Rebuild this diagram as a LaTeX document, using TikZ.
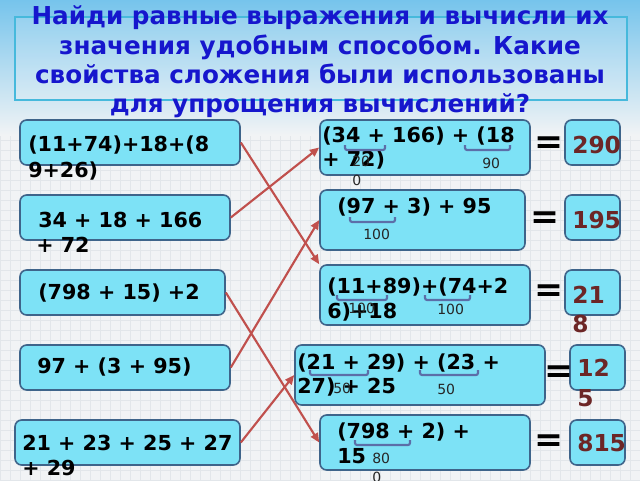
\documentclass[tikz,border=0pt]{standalone}
\usepackage{fontspec}
\setmainfont{DejaVu Sans}
\usetikzlibrary{fit,arrows.meta}
\definecolor{bgc}{RGB}{241,243,245}
\definecolor{gridc}{RGB}{226,230,234}
\definecolor{skytop}{RGB}{118,196,236}
\definecolor{titlec}{RGB}{22,22,205}
\definecolor{tboxc}{RGB}{70,185,220}
\definecolor{boxfill}{RGB}{125,226,246}
\definecolor{boxborder}{RGB}{62,100,138}
\definecolor{conncol}{RGB}{192,80,77}
\definecolor{anscol}{RGB}{108,38,38}
\definecolor{brkcol}{RGB}{92,110,168}
\begin{document}
\begin{tikzpicture}[x=0.75pt,y=-0.75pt,
  box/.style={draw=boxborder, fill=boxfill, line width=1.2pt, rounded corners=5pt, inner sep=0pt},
  eqt/.style={font=\fontsize{15.5}{18}\selectfont\bfseries, anchor=west, inner sep=0pt, text=black},
  lab/.style={font=\fontsize{10.5}{12}\selectfont, anchor=west, inner sep=0pt, text=black!85},
  anst/.style={font=\fontsize{17.5}{20}\selectfont\bfseries, text=anscol, anchor=west, inner sep=0pt},
  equ/.style={font=\fontsize{26}{28}\selectfont\bfseries, inner sep=0pt},
  brk/.style={draw=brkcol, line width=1.6pt, rounded corners=1.5pt},
  conn/.style={draw=conncol, line width=1.6pt, -{Triangle[length=7pt,width=6pt]}}]
\useasboundingbox (0,0) rectangle (640,480);
% background
\fill[bgc] (0,0) rectangle (640,480);
\draw[gridc, line width=0.3pt, step=7.5pt] (0,0) grid (640,480);
\shade[top color=skytop, bottom color=bgc] (0,0) rectangle (640,135);
% title
\draw[tboxc, line width=1pt, fill=white, fill opacity=0.15] (15,17) rectangle (627,100);
\node[font=\fontsize{18.5}{22}\selectfont\bfseries, text=titlec, align=center] (title) at (320,62)
  {Найди равные выражения и вычисли их\\значения удобным способом. Какие\\свойства сложения были использованы\\для упрощения вычислений?};
% left boxes
\node[box, fit={(20,120) (240,165)}] (L1) {};
\node[box, fit={(20,195) (230,240)}] (L2) {};
\node[box, fit={(20,270) (225,315)}] (L3) {};
\node[box, fit={(20,345) (230,390)}] (L4) {};
\node[box, fit={(15,420) (240,465)}] (L5) {};
% right boxes
\node[box, fit={(320,120) (530,175)}] (A) {};
\node[box, fit={(320,190) (525,250)}] (B) {};
\node[box, fit={(320,265) (530,325)}] (C) {};
\node[box, fit={(295,345) (545,405)}] (D) {};
\node[box, fit={(320,415) (530,470)}] (E) {};
% answer boxes
\node[box, fit={(565,120) (620,165)}] (AA) {};
\node[box, fit={(565,195) (620,240)}] (AB) {};
\node[box, fit={(565,270) (620,315)}] (AC) {};
\node[box, fit={(570,345) (625,390)}] (AD) {};
\node[box, fit={(570,420) (625,465)}] (AE) {};
% connectors
\draw[conn] (L1.east) -- (C.north west);
\draw[conn] (L2.east) -- (A.west);
\draw[conn] (L3.east) -- (E.west);
\draw[conn] (L4.east) -- (B.west);
\draw[conn] (L5.east) -- (D.west);
% left texts
\node[eqt] (t1a) at (28,145) {(11+74)+18+(8};
\node[eqt] (t1b) at (28,171) {9+26)};
\node[eqt] (t2a) at (38,220) {34 + 18 + 166};
\node[eqt] (t2b) at (36,245) {+ 72};
\node[eqt] (t3) at (38,293) {(798 + 15) +2};
\node[eqt] (t4) at (37,367) {97 + (3 + 95)};
\node[eqt] (t5a) at (22,443) {21 + 23 + 25 + 27};
\node[eqt] (t5b) at (22,468) {+ 29};
% right texts A
\node[eqt] (ta1) at (322,136) {(34 + 166) + (18};
\node[eqt] (ta2) at (322,160) {+ 72)};
\draw[brk] (345,145) -- (345,150) -- (385,150) -- (385,145);
\draw[brk] (465,145) -- (465,150) -- (510,150) -- (510,145);
\node[lab] (la1) at (352,161) {20};
\node[lab] (la2) at (352,180) {0};
\node[lab] (la3) at (482,163) {90};
% B
\node[eqt] (tb1) at (337,207) {(97 + 3) + 95};
\draw[brk] (350,217) -- (350,222) -- (395,222) -- (395,217);
\node[lab] (lb1) at (363,234) {100};
% C
\node[eqt] (tc1) at (327,287) {(11+89)+(74+2};
\node[eqt] (tc2) at (327,312) {6)+18};
\draw[brk] (337,295) -- (337,300) -- (387,300) -- (387,295);
\draw[brk] (425,295) -- (425,300) -- (470,300) -- (470,295);
\node[lab] (lc1) at (348,308) {100};
\node[lab] (lc2) at (437,309) {100};
% D
\node[eqt] (td1) at (297,363) {(21 + 29) + (23 +};
\node[eqt] (td2) at (297,387) {27) + 25};
\draw[brk] (310,370) -- (310,375) -- (368,375) -- (368,370);
\draw[brk] (420,370) -- (420,375) -- (478,375) -- (478,370);
\node[lab] (ld1) at (333,388) {50};
\node[lab] (ld2) at (437,389) {50};
% E
\node[eqt] (te1) at (337,432) {(798 + 2) +};
\node[eqt] (te2) at (337,456) {15};
\draw[brk] (355,440) -- (355,445) -- (410,445) -- (410,440);
\node[lab] (le1) at (372,458) {80};
\node[lab] (le2) at (372,477) {0};
% equals
\node[equ] (eA) at (549,145) {=};
\node[equ] (eB) at (545,220) {=};
\node[equ] (eC) at (549,293) {=};
\node[equ] (eD) at (559,374) {=};
\node[equ] (eE) at (549,443) {=};
% answers
\node[anst] (aA) at (572,145) {290};
\node[anst] (aB) at (572,220) {195};
\node[anst] (aC1) at (572,295) {21};
\node[anst] (aC2) at (572,324) {8};
\node[anst] (aD1) at (577,368) {12};
\node[anst] (aD2) at (577,398) {5};
\node[anst] (aE) at (577,443) {815};
\end{tikzpicture}
\end{document}
